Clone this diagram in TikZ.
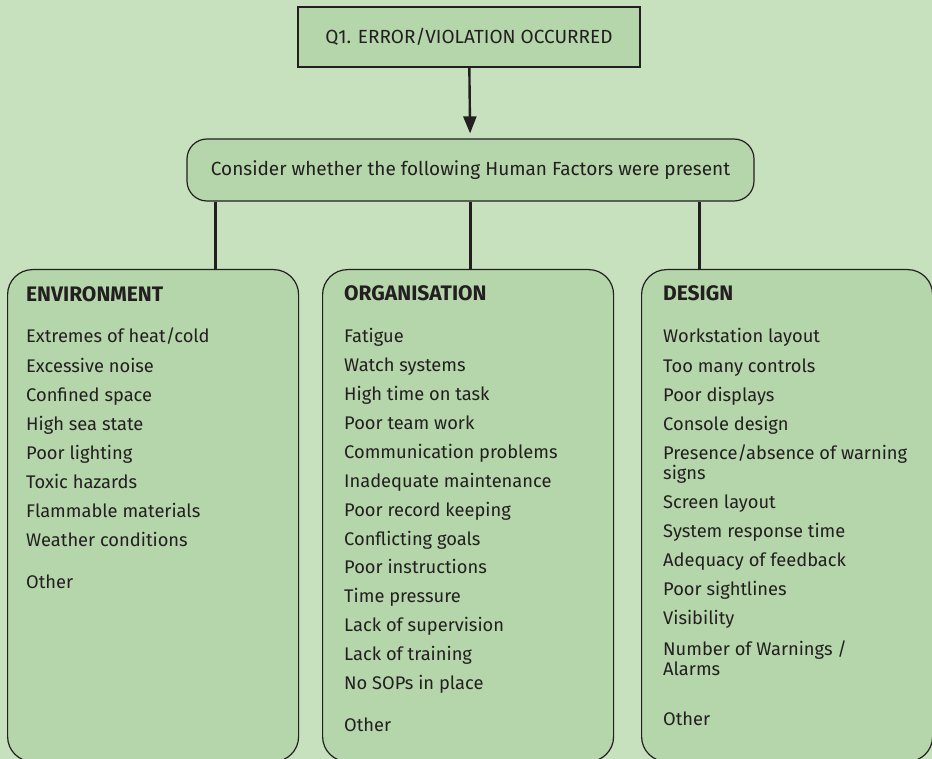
\documentclass[tikz,border=0pt]{standalone}
\usepackage{fontspec}
\setmainfont{Fira Sans}
\usetikzlibrary{arrows.meta}

\definecolor{pagegreen}{RGB}{199,224,190}
\definecolor{boxgreen}{RGB}{181,214,170}
\definecolor{inkgrey}{RGB}{35,31,32}

\tikzset{
  box/.style={draw=inkgrey, fill=boxgreen, line width=1.2pt, text=inkgrey},
  catbox/.style={box, rounded corners=25pt, anchor=north west, minimum width=291pt, minimum height=492pt},
  cathead/.style={anchor=base west, inner sep=0pt, text=inkgrey, font=\bfseries\fontsize{21}{22}\selectfont},
  item/.style={anchor=base west, inner sep=0pt, align=left, text=inkgrey, font=\fontsize{18.3}{20}\selectfont},
  link/.style={draw=inkgrey, line width=2.4pt},
}

\begin{document}
\begin{tikzpicture}[x=1pt,y=-1pt]
  \useasboundingbox[fill=pagegreen] (0,0) rectangle (932,759);
  % question and prompt
  \node[box, minimum width=342pt, minimum height=60pt, font=\fontsize{19}{20}\selectfont] (q1) at (469,37) {Q1. ERROR/VIOLATION OCCURRED};
  \node[box, rounded corners=20pt, minimum width=567pt, minimum height=62pt, font=\fontsize{19}{21}\selectfont] (hf) at (470.5,170) {Consider whether the following Human Factors were present};
  \draw[link, -{Triangle[length=17pt,width=13pt]}, shorten >=5pt] (q1) -- (hf);
  % the three groups
  \node[catbox] (env) at (7,269) {};
  \node[catbox] (org) at (322,269) {};
  \node[catbox] (des) at (641,269) {};
  \draw[link] ([xshift=29pt]hf.south west) -- ([xshift=29pt]hf.south west |- env.north);
  \draw[link] (hf.south) -- (hf.south |- org.north);
  \draw[link] ([xshift=-55pt]hf.south east) -- ([xshift=-55pt]hf.south east |- des.north);
  \node[cathead] (env-head) at (26,301.5) {ENVIRONMENT};
  \node[cathead] (org-head) at (344,301) {ORGANISATION};
  \node[cathead] (des-head) at (663,300.7) {DESIGN};
  % environment
  \foreach \txt [count=\i] in {Extremes of heat/cold, Excessive noise, Confined space, High sea state,
      Poor lighting, Toxic hazards, Flammable materials, Weather conditions}
    \node[item] (env-\i) at (26,343+29*\i-29) {\txt};
  \node[item] (env-other) at (26,588) {Other};
  % organisation
  \foreach \txt [count=\i] in {Fatigue, Watch systems, High time on task, Poor team work,
      Communication problems, Inadequate maintenance, Poor record keeping, Conflicting goals,
      Poor instructions, Time pressure, Lack of supervision, Lack of training, No SOPs in place}
    \node[item] (org-\i) at (344,343+28.86*\i-28.86) {\txt};
  \node[item] (org-other) at (344,731.5) {Other};
  % design (two-line items sit on their last line)
  \foreach \y/\txt [count=\i] in {343/Workstation layout, 372/Too many controls, 401/Poor displays,
      430/Console design, 479/{Presence/absence of warning\\signs}, 508/Screen layout,
      537/System response time, 566/Adequacy of feedback, 595/Poor sightlines, 624/Visibility,
      675/{Number of Warnings /\\Alarms}}
    \node[item] (des-\i) at (663,\y) {\txt};
  \node[item] (des-other) at (663,725) {Other};
\end{tikzpicture}
\end{document}
